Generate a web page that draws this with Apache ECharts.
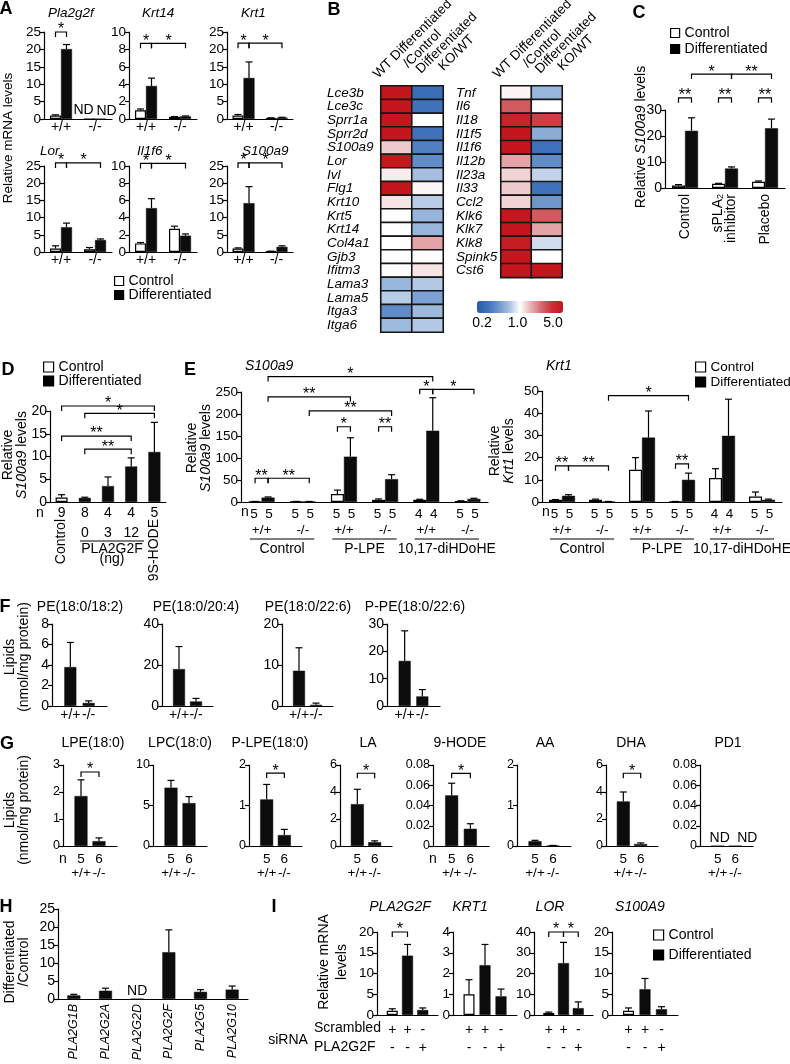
<!DOCTYPE html>
<html><head><meta charset="utf-8">
<script src="https://cdn.jsdelivr.net/npm/echarts@6/dist/echarts.min.js"></script>
<style>html,body{margin:0;padding:0;background:#fff}#c{width:790px;height:1064px}</style>
</head><body><div id="c"></div>
<script>
// ================= DATA =================
// Panel A
const aGenes = ['Pla2g2f', 'Krt14', 'Krt1', 'Lor', 'Il1f6', 'S100a9'];
const aGenotypes = ['+/+', '-/-'];
const aCtrl    = [[1.0, null], [1.0, 0.25], [1.0, 0.3], [1.0, 0.8], [1.0, 2.7], [1.0, 0.2]];
const aCtrlErr = [[0.2, 0], [0.15, 0.03], [0.3, 0.05], [0.8, 0.5], [0.1, 0.3], [0.2, 0.05]];
const aDiff    = [[20.1, null], [3.8, 0.3], [11.8, 0.4], [7.2, 3.5], [5.1, 1.9], [14.2, 1.5]];
const aDiffErr = [[1.3, 0], [0.9, 0.05], [4.6, 0.1], [1.2, 0.3], [1.1, 0.2], [4.8, 0.3]];
const aYMax = [25, 10, 25, 25, 10, 25];
const aYStep = [5, 2, 5, 5, 2, 5];
const aSig = [
  [{a: [0, -1], b: [0, 1], y: 25, t: '*'}],
  [{a: [0, -1], b: [0, 1], y: 8.7, t: '*'}, {a: [0, 1], b: [1, 1], y: 8.7, t: '*'}],
  [{a: [0, -1], b: [0, 1], y: 21.8, t: '*'}, {a: [0, 1], b: [1, 1], y: 21.8, t: '*'}],
  [{a: [0, -1], b: [0, 1], y: 25.9, t: '*'}, {a: [0, 1], b: [1, 1], y: 25.9, t: '*'}],
  [{a: [0, -1], b: [0, 1], y: 10.3, t: '*'}, {a: [0, 1], b: [1, 1], y: 10.3, t: '*'}],
  [{a: [0, -1], b: [0, 1], y: 25.9, t: '*'}, {a: [0, 1], b: [1, 1], y: 25.9, t: '*'}]
];

// Panel B (fold changes)
const bCols = ['WT Differentiated\n/Control', 'Differentiated\nKO/WT'];
const bLeftGenes = ['Lce3b', 'Lce3c', 'Sprr1a', 'Sprr2d', 'S100a9', 'Lor', 'Ivl', 'Flg1', 'Krt10', 'Krt5', 'Krt14', 'Col4a1', 'Gjb3', 'Ifitm3', 'Lama3', 'Lama5', 'Itga3', 'Itga6'];
const bLeftWT = [5, 5, 5, 5, 1.3, 5, 1.1, 5, 1.15, 1, 1, 1, 1, 1, 0.6, 0.72, 0.4, 0.62];
const bLeftKO = [0.28, 0.3, 1, 0.3, 0.35, 0.4, 0.65, 1.05, 0.72, 0.6, 0.6, 1.6, 1, 1.15, 0.7, 0.5, 0.62, 0.7];
const bRightGenes = ['Tnf', 'Il6', 'Il18', 'Il1f5', 'Il1f6', 'Il12b', 'Il23a', 'Il33', 'Ccl2', 'Klk6', 'Klk7', 'Klk8', 'Spink5', 'Cst6'];
const bRightWT = [1.05, 2.5, 4, 5, 5, 1.6, 1.25, 1.3, 1.25, 5, 5, 4.5, 5, 5];
const bRightKO = [0.6, 1, 3, 0.55, 0.3, 0.4, 0.75, 0.3, 0.45, 2.5, 1.6, 0.8, 1, 5];
const bScaleTicks = [0.2, 1.0, 5.0];

// Panel C
const cTreatments = ['Control', 'sPLA2 inhibitor', 'Placebo'];
const cCtrl = [1.0, 1.6, 2.4];
const cCtrlErr = [0.3, 0.2, 0.3];
const cDiff = [22, 7.5, 23];
const cDiffErr = [5, 0.6, 3.5];
const cSig = [
  {a: [0, -1], b: [0, 1], y: 34.7, t: '**'}, {a: [1, -1], b: [1, 1], y: 34.7, t: '**'}, {a: [2, -1], b: [2, 1], y: 34.7, t: '**'},
  {a: [0, 1], b: [1, 1], y: 43.8, t: '*'}, {a: [1, 1], b: [2, 1], y: 43.8, t: '**'}
];

// Panel D
const dConds = ['Control', '0', '3', '12', '9S-HODE'];
const dCondType = ['Control', 'Differentiated', 'Differentiated', 'Differentiated', 'Differentiated'];
const dN = [9, 8, 4, 4, 5];
const dValues = [1.0, 0.9, 3.5, 7.8, 11];
const dErr = [0.6, 0.15, 2.0, 1.9, 6.5];
const dSig = [
  {a: [0, 0], b: [4, 0], y: 21.1, t: '*'}, {a: [1, 0], b: [4, 0], y: 19.5, t: '*'},
  {a: [0, 0], b: [3, 0], y: 14.5, t: '**'}, {a: [1, 0], b: [3, 0], y: 11.6, t: '**'}
];

// Panel E
const eGroups = ['Control', 'P-LPE', '10,17-diHDoHE'];
const eGenotypes = ['+/+', '-/-', '+/+', '-/-', '+/+', '-/-'];
const eN = [[5, 5], [5, 5], [5, 5], [5, 5], [4, 4], [5, 5]];
const eS100a9Ctrl = [1, 1, 18, 5, 5, 2];
const eS100a9CtrlErr = [0.3, 0.3, 9, 2, 1.2, 0.8];
const eS100a9Diff = [10, 1, 103, 52, 162, 7];
const eS100a9DiffErr = [1.5, 0.3, 43, 10, 75, 1.5];
const eS100a9Sig = [
  {a: [0, -1], b: [0, 1], y: 54, t: '**'}, {a: [0, 1], b: [1, 1], y: 54, t: '**'},
  {a: [2, -1], b: [2, 1], y: 171, t: '*'}, {a: [3, -1], b: [3, 1], y: 171, t: '**'},
  {a: [0, 1], b: [4, 1], y: 285, t: '*'}, {a: [0, 1], b: [2, 1], y: 239, t: '**'},
  {a: [1, 1], b: [3, 1], y: 207, t: '**'},
  {a: [4, -1], b: [4, 1], y: 256, t: '*'}, {a: [4, 1], b: [5, 1], y: 256, t: '*'}
];
const eKrt1Ctrl = [1, 1, 14.5, 0.2, 10.8, 2.5];
const eKrt1CtrlErr = [0.1, 0.3, 5.5, 0.05, 4.2, 2];
const eKrt1Diff = [2.8, 0.2, 29, 10, 29.8, 1.0];
const eKrt1DiffErr = [0.5, 0.05, 12, 3, 16.5, 0.3];
const eKrt1Sig = [
  {a: [0, -1], b: [0, 1], y: 16.3, t: '**'}, {a: [0, 1], b: [1, 1], y: 16.3, t: '**'},
  {a: [3, -1], b: [3, 1], y: 17.2, t: '**'}, {a: [1, 1], b: [3, 1], y: 47.9, t: '*'}
];

// Panel F
const fLipids = ['PE(18:0/18:2)', 'PE(18:0/20:4)', 'PE(18:0/22:6)', 'P-PE(18:0/22:6)'];
const fGenotypes = ['+/+', '-/-'];
const fWT = [3.8, 18, 8.6, 16.5];
const fWTErr = [2.4, 11, 5.6, 11];
const fKO = [0.3, 2.2, 0.3, 3.5];
const fKOErr = [0.2, 1.5, 0.4, 2.5];
const fYMax = [8, 40, 20, 30];
const fYStep = [2, 20, 10, 10];

// Panel G
const gLipids = ['LPE(18:0)', 'LPC(18:0)', 'P-LPE(18:0)', 'LA', '9-HODE', 'AA', 'DHA', 'PD1'];
const gN = [5, 6];
const gWT = [1.85, 7.2, 1.15, 3.1, 0.05, 0.12, 3.3, null];
const gWTErr = [0.6, 0.9, 0.37, 1.1, 0.012, 0.02, 0.7, 0];
const gKO = [0.18, 5.3, 0.27, 0.28, 0.017, 0.01, 0.15, null];
const gKOErr = [0.12, 0.8, 0.14, 0.1, 0.005, 0.005, 0.08, 0];
const gYMax = [3, 10, 2, 6, 0.08, 2, 6, 0.08];
const gYStep = [1, 5, 1, 2, 0.02, 1, 2, 0.02];
const gSigY = [2.74, null, 1.8, 5.39, 0.0718, null, 5.39, null];

// Panel H
const hGenes = ['PLA2G1B', 'PLA2G2A', 'PLA2G2D', 'PLA2G2F', 'PLA2G5', 'PLA2G10'];
const hRatio = [1.0, 2.3, null, 13, 2.0, 2.6];
const hErr = [0.3, 0.7, 0, 6.2, 0.6, 1.0];

// Panel I
const iGenes = ['PLA2G2F', 'KRT1', 'LOR', 'S100A9'];
const iScrambled = ['+', '+', '-'];
const iSiRNA = ['-', '-', '+'];
const iCond = ['Control', 'Differentiated', 'Differentiated'];
const iValues = [[1.0, 14.3, 1.2], [1.0, 2.4, 0.9], [1.0, 25, 3.3], [1.0, 6.2, 1.4]];
const iErr = [[0.5, 2.7, 0.5], [0.7, 1.0, 0.35], [0.4, 10, 3], [0.7, 2.6, 0.6]];
const iYMax = [20, 4, 40, 20];
const iYStep = [5, 1, 10, 5];
const iSig = [
  [{a: [1, 0], b: [2, 0], y: 20, t: '*'}], [],
  [{a: [1, 0], b: [2, 0], y: 40, t: '*'}, {a: [2, 0], b: [3, 0], y: 40, t: '*'}], []
];

// ================= BUILDERS =================
const FONT = '"Liberation Sans", Arial, Helvetica, sans-serif';
const grids = [], xAxes = [], yAxes = [], series = [], graphics = [], heatIdx = [];

function T(x, y, text, o) {
  o = o || {};
  const st = {text, x: 0, y: 0, fill: '#000', fontFamily: FONT, fontSize: o.size || 14,
    fontStyle: o.italic ? 'italic' : 'normal', fontWeight: o.bold ? 'bold' : 'normal',
    align: o.align || 'center', verticalAlign: o.valign || 'middle'};
  if (o.lh) st.lineHeight = o.lh;
  if (o.rich) st.rich = o.rich;
  graphics.push({type: 'text', x, y, rotation: o.rot || 0, silent: true, z: 10, style: st});
}
function L(x1, y1, x2, y2) {
  graphics.push({type: 'line', silent: true, z: 10, shape: {x1, y1, x2, y2}, style: {stroke: '#000', lineWidth: 1.2}});
}
function ITAL(s) {
  return {i: {fontStyle: 'italic', fontSize: s, fontFamily: FONT, fill: '#000'}, n: {fontSize: s, fontFamily: FONT, fill: '#000'}};
}

function addBarPanel(c) {
  const gi = grids.length;
  grids.push({left: c.box[0], top: c.box[1], width: c.box[2], height: c.box[3]});
  const xi = xAxes.length;
  xAxes.push({
    type: 'category', gridIndex: gi, data: c.cats, boundaryGap: c.boundaryGap !== false, position: 'bottom',
    axisLine: {show: true, onZero: false, lineStyle: {color: '#000', width: 1.2}},
    axisTick: {show: false}, splitLine: {show: false},
    axisLabel: {
      interval: 0, color: '#000', fontFamily: FONT, fontSize: c.xFont || 14,
      margin: c.xMargin != null ? c.xMargin : 2, rotate: c.xRotate || 0, lineHeight: c.xLH || 15,
      fontStyle: c.xItalic ? 'italic' : 'normal',
      formatter: (v, i) => c.xLabels[i], rich: c.xRich || {}
    }
  });
  const yi = yAxes.length;
  yAxes.push({
    type: 'value', gridIndex: gi, min: 0, max: c.yMax, interval: c.yStep,
    axisLine: {show: true, onZero: false, lineStyle: {color: '#000', width: 1.2}},
    axisTick: {show: true, length: 4, lineStyle: {color: '#000', width: 1.2}},
    splitLine: {show: false},
    axisLabel: {color: '#000', fontFamily: FONT, fontSize: c.yFont || 13, margin: 3}
  });
  c.bars.forEach(b => {
    const white = b.name === 'Control';
    const side = b.side || 0;
    series.push({
      type: 'bar', name: b.name, xAxisIndex: xi, yAxisIndex: yi, barWidth: c.bw, barGap: c.barGap || '0%',
      itemStyle: white ? {color: '#fff', borderColor: '#000', borderWidth: 1.2} : {color: '#0c0c0c', borderColor: '#0c0c0c', borderWidth: 0.5},
      data: b.data.map((v, i) => v === null ? {
        value: 0,
        label: {show: true, position: 'top', distance: 1, formatter: 'ND', color: '#000', fontFamily: FONT,
          fontSize: c.ndFont || 14, offset: [c.ndOff ? c.ndOff[i] : side * 6, 0]}
      } : v),
      silent: true, z: 2
    });
    const off = side * c.bw / 2;
    const cap = c.cap || 3.5;
    const pts = [];
    b.data.forEach((v, i) => { if (typeof v === 'number' && b.err && b.err[i] > 0) pts.push([i, v, b.err[i]]); });
    series.push({
      type: 'custom', xAxisIndex: xi, yAxisIndex: yi, clip: false, silent: true, z: 3, data: pts,
      renderItem: (p, api) => {
        const b0 = api.coord([api.value(0), api.value(1)]);
        const t = api.coord([api.value(0), api.value(1) + api.value(2)]);
        const x = b0[0] + off;
        return {type: 'group', children: [
          {type: 'line', shape: {x1: x, y1: b0[1], x2: x, y2: t[1]}, style: {stroke: '#000', lineWidth: 1.2}},
          {type: 'line', shape: {x1: x - cap, y1: t[1], x2: x + cap, y2: t[1]}, style: {stroke: '#000', lineWidth: 1.2}}
        ]};
      }
    });
  });
  if (c.sig && c.sig.length) {
    const sig = c.sig;
    series.push({
      type: 'custom', xAxisIndex: xi, yAxisIndex: yi, clip: false, silent: true, z: 4,
      data: sig.map(s => [s.a[0], s.y, s.a[1], s.b[0], s.b[1]]),
      renderItem: (p, api) => {
        const s = sig[p.dataIndex];
        const p1 = api.coord([api.value(0), api.value(1)]);
        const p2 = api.coord([api.value(3), api.value(1)]);
        const x1 = p1[0] + api.value(2) * c.bw / 2, x2 = p2[0] + api.value(4) * c.bw / 2, y = p1[1];
        const h = c.tick || 5;
        return {type: 'group', children: [
          {type: 'polyline', shape: {points: [[x1, y + h], [x1, y], [x2, y], [x2, y + h]]}, style: {stroke: '#000', fill: null, lineWidth: 1.2}},
          {type: 'text', style: {text: s.t, x: (x1 + x2) / 2, y: y + 6, align: 'center', verticalAlign: 'bottom',
            fontSize: c.starFont || 16, fontFamily: FONT, fill: '#000'}}
        ]};
      }
    });
  }
  return {gi, xi, yi};
}

function addHeat(box, genes, wt, ko, margin) {
  const gi = grids.length;
  grids.push({left: box[0], top: box[1], width: box[2], height: box[3]});
  const xi = xAxes.length;
  xAxes.push({type: 'category', gridIndex: gi, data: ['wt', 'ko'], show: false});
  const yi = yAxes.length;
  yAxes.push({
    type: 'category', gridIndex: gi, data: genes, inverse: true,
    axisLine: {show: false}, axisTick: {show: false}, splitLine: {show: false},
    axisLabel: {interval: 0, align: 'left', margin: margin, fontStyle: 'italic', fontSize: 13.5, color: '#000', fontFamily: FONT}
  });
  const data = [];
  genes.forEach((g, i) => { data.push([0, i, Math.log10(wt[i])]); data.push([1, i, Math.log10(ko[i])]); });
  heatIdx.push(series.length);
  series.push({type: 'heatmap', xAxisIndex: xi, yAxisIndex: yi, data, silent: true,
    itemStyle: {borderColor: '#161616', borderWidth: 1.6}});
  const colW = box[2] / 2;
  bCols.forEach((t, j) => {
    const cx = box[0] + colW * (j + 0.5);
    T(cx + (j === 0 ? 21 : 24), box[1] - (j === 0 ? 42 : 38), t, {size: 13.5, rot: Math.PI / 4, lh: 14});
  });
}

// ================= PANELS =================
// A
const aBoxes = [[44, 32, 68, 87], [129, 32, 68, 87], [227, 32, 66, 87], [44, 166, 68, 86], [129, 166, 68, 86], [227, 166, 66, 86]];
const aTitlePos = [[48, 13], [142, 13], [241, 13], [40, 151], [137, 151], [242, 151]];
aGenes.forEach((g, k) => {
  addBarPanel({box: aBoxes[k], cats: aGenotypes, xLabels: aGenotypes, xFont: 14, xMargin: 1,
    yMax: aYMax[k], yStep: aYStep[k], yFont: 13.5, bw: 11,
    bars: [{name: 'Control', side: -1, data: aCtrl[k], err: aCtrlErr[k]},
           {name: 'Differentiated', side: 1, data: aDiff[k], err: aDiffErr[k]}],
    sig: aSig[k]});
  T(aTitlePos[k][0], aTitlePos[k][1], g, {italic: true, size: 13.5, align: 'left'});
});
T(8, 138, 'Relative mRNA levels', {rot: Math.PI / 2, size: 13.5});

// B
addHeat([381, 86, 62, 246], bLeftGenes, bLeftWT, bLeftKO, 54);
addHeat([501, 86, 61, 191.4], bRightGenes, bRightWT, bRightKO, 45);
bScaleTicks.forEach(v => {
  const t = (Math.log10(v) + Math.log10(5)) / (2 * Math.log10(5));
  T(482 + 71 * t, 323, v.toFixed(1), {size: 14});
});

// C
addBarPanel({box: [665, 110, 120, 78], cats: cTreatments,
  xLabels: ['Control', 'sPLA{s|2}\ninhibitor', 'Placebo'], xRotate: 90, xMargin: 6, xLH: 13, xFont: 14,
  xRich: {s: {fontSize: 9, fontFamily: FONT, verticalAlign: 'bottom', padding: [7, 0, 0, 0]}},
  yMax: 30, yStep: 10, yFont: 14, bw: 13,
  bars: [{name: 'Control', side: -1, data: cCtrl, err: cCtrlErr}, {name: 'Differentiated', side: 1, data: cDiff, err: cDiffErr}],
  sig: cSig});
T(641, 137, '{n|Relative }{i|S100a9}{n| levels}', {rot: Math.PI / 2, rich: ITAL(14)});

// D
(function () {
  const ctrl = dValues.map((v, i) => dCondType[i] === 'Control' ? v : '-');
  const diff = dValues.map((v, i) => dCondType[i] === 'Control' ? '-' : v);
  const ctrlE = dErr.map((v, i) => dCondType[i] === 'Control' ? v : 0);
  const diffE = dErr.map((v, i) => dCondType[i] === 'Control' ? 0 : v);
  const r = addBarPanel({box: [50, 411, 116, 91], cats: dConds, xLabels: dN.map(String), xMargin: 4, xFont: 14,
    yMax: 20, yStep: 5, yFont: 14, bw: 12, barGap: '-100%',
    bars: [{name: 'Control', data: ctrl, err: ctrlE}, {name: 'Differentiated', data: diff, err: diffE}],
    sig: dSig});
  xAxes.push({type: 'category', gridIndex: r.gi, data: dConds, position: 'bottom', axisLine: {show: false}, axisTick: {show: false},
    axisLabel: {interval: 0, margin: 24, color: '#000', fontFamily: FONT, fontSize: 14,
      formatter: (v, i) => dCondType[i] === 'Control' || i === dConds.length - 1 ? '' : v}});
  xAxes.push({type: 'category', gridIndex: r.gi, data: dConds, position: 'bottom', axisLine: {show: false}, axisTick: {show: false},
    axisLabel: {interval: 0, margin: 17, rotate: 90, color: '#000', fontFamily: FONT, fontSize: 14,
      formatter: (v, i) => dCondType[i] === 'Control' || i === dConds.length - 1 ? v : ''}});
  T(40, 513, 'n', {size: 14});
  L(80, 541, 144, 541);
  T(112, 549, 'PLA2G2F', {size: 14});
  T(112, 559, '(ng)', {size: 14});
  T(15, 455, '{n|Relative}\n{i|S100a9}{n| levels}', {rot: Math.PI / 2, rich: ITAL(14), lh: 14});
})();

// E
function ePanel(box, title, ctrl, ctrlE, diff, diffE, sig, yMax, yStep, lineInset) {
  addBarPanel({box, cats: eGenotypes.map((g, i) => 'c' + i),
    xLabels: eN.map((n, i) => n[0] + '  ' + n[1] + '\n' + eGenotypes[i]), xMargin: 4, xLH: 16, xFont: 13.5,
    yMax, yStep, yFont: 13.5, bw: 13,
    bars: [{name: 'Control', side: -1, data: ctrl, err: ctrlE}, {name: 'Differentiated', side: 1, data: diff, err: diffE}],
    sig});
  const gw = box[2] / eGroups.length;
  eGroups.forEach((g, k) => {
    const x0 = box[0] + gw * k;
    L(x0 + lineInset, 539, x0 + gw - lineInset, 539);
    T(x0 + gw / 2, 549, g, {size: 14});
  });
  T(box[0] + 4, 512, 'n', {size: 14});
  T(box[0] + 4, 366, title, {italic: true, size: 14, align: 'left'});
}
ePanel([241, 392, 247, 110], 'S100a9', eS100a9Ctrl, eS100a9CtrlErr, eS100a9Diff, eS100a9DiffErr, eS100a9Sig, 250, 50, 9);
T(199, 448, '{n|Relative}\n{i|S100a9}{n| levels}', {rot: Math.PI / 2, rich: ITAL(14), lh: 14});
ePanel([542, 391, 240, 111], 'Krt1', eKrt1Ctrl, eKrt1CtrlErr, eKrt1Diff, eKrt1DiffErr, eKrt1Sig, 50, 10, 8);
T(502, 451, '{n|Relative}\n{i|Krt1}{n| levels}', {rot: Math.PI / 2, rich: ITAL(14), lh: 14});

// F
const fBoxes = [[52, 624, 55, 82], [162, 624, 51, 82], [282, 624, 51, 82], [387, 624, 53, 82]];
const fTitleX = [80, 196, 308, 415];
fLipids.forEach((name, k) => {
  addBarPanel({box: fBoxes[k], cats: ['p0', 'wt', 'ko', 'p1'], boundaryGap: false,
    xLabels: ['', fGenotypes[0], fGenotypes[1], ''], xMargin: 2, xFont: 14,
    yMax: fYMax[k], yStep: fYStep[k], yFont: 14, bw: 12,
    bars: [{name: 'Lipid', data: ['-', fWT[k], fKO[k], '-'], err: [0, fWTErr[k], fKOErr[k], 0]}]});
  T(fTitleX[k], 607, name, {size: 14});
});
T(17, 657, 'Lipids\n(nmol/mg protein)', {rot: Math.PI / 2, size: 14, lh: 14});

// G
const gBoxes = [[63, 765, 54, 81], [153, 765, 54, 81], [249, 765, 53, 81], [340, 765, 52, 81],
                [433, 765, 56, 81], [517, 765, 54, 81], [606, 765, 52, 81], [700, 765, 53, 81]];
const gTitleX = [93, 180, 270, 368, 460, 545, 631, 728];
gLipids.forEach((name, k) => {
  addBarPanel({box: gBoxes[k], cats: ['p0', 'wt', 'ko', 'p1'], boundaryGap: false,
    xLabels: ['', gN[0] + '\n+/+', gN[1] + '\n-/-', ''], xMargin: 6, xLH: 14, xFont: 13.5,
    yMax: gYMax[k], yStep: gYStep[k], yFont: 12.5, bw: 13, ndOff: [0, 2, 12, 0],
    bars: [{name: 'Lipid', data: ['-', gWT[k], gKO[k], '-'], err: [0, gWTErr[k], gKOErr[k], 0]}],
    sig: gSigY[k] != null ? [{a: [1, 0], b: [2, 0], y: gSigY[k], t: '*'}] : []});
  T(gTitleX[k], 743, name, {size: 14});
});
T(63, 859, 'n', {size: 14});
T(433, 859, 'n', {size: 14});
T(17, 810, 'Lipids\n(nmol/mg protein)', {rot: Math.PI / 2, size: 14, lh: 14});

// H
addBarPanel({box: [58, 909, 190, 90], cats: hGenes, xLabels: hGenes, xRotate: 90, xItalic: true, xMargin: 5, xFont: 12.5,
  yMax: 25, yStep: 5, yFont: 14, bw: 13,
  bars: [{name: 'Ratio', data: hRatio, err: hErr}]});
T(17, 962, 'Differentiated\n/Control', {rot: Math.PI / 2, size: 14, lh: 14});

// I
const iBoxes = [[377, 932, 61, 83], [453, 932, 64, 83], [534, 932, 59, 83], [612, 932, 66, 83]];
const iTitleX = [400, 470, 550, 640];
iGenes.forEach((g, k) => {
  const ctrl = ['-'], diff = ['-'], ce = [0], de = [0];
  iCond.forEach((c, j) => {
    ctrl.push(c === 'Control' ? iValues[k][j] : '-'); ce.push(c === 'Control' ? iErr[k][j] : 0);
    diff.push(c === 'Control' ? '-' : iValues[k][j]); de.push(c === 'Control' ? 0 : iErr[k][j]);
  });
  ctrl.push('-'); diff.push('-'); ce.push(0); de.push(0);
  addBarPanel({box: iBoxes[k], cats: ['p0', 's1', 's2', 's3', 'p1'], boundaryGap: false,
    xLabels: [''].concat(iScrambled.map((s, j) => s + '\n' + iSiRNA[j])).concat(['']),
    xMargin: 6, xLH: 18, xFont: 14,
    yMax: iYMax[k], yStep: iYStep[k], yFont: 13.5, bw: 11, barGap: '-100%',
    bars: [{name: 'Control', data: ctrl, err: ce}, {name: 'Differentiated', data: diff, err: de}],
    sig: iSig[k]});
  T(iTitleX[k], 907, g, {italic: true, size: 14});
});
T(333, 962, 'Relative mRNA\nlevels', {rot: Math.PI / 2, size: 14, lh: 18});
T(288, 1040, 'siRNA', {size: 14});
T(314, 1028, 'Scrambled', {size: 14, align: 'left'});
T(314, 1047, 'PLA2G2F', {size: 14, align: 'left'});

// Panel letters
[['A', 6, 9], ['B', 334, 10], ['C', 639, 13], ['D', 8, 370], ['E', 190, 370], ['F', 5, 607],
 ['G', 7, 744], ['H', 6, 907], ['I', 274, 907]].forEach(p => T(p[1], p[2], p[0], {bold: true, size: 18}));

// Legends
const legendData = [
  {name: 'Control', itemStyle: {color: '#fff', borderColor: '#000', borderWidth: 1.2}},
  {name: 'Differentiated', itemStyle: {color: '#000', borderColor: '#000', borderWidth: 1.2}}
];
function mkLegend(left, top, icon, gap, size) {
  return {left, top, orient: 'vertical', data: legendData, icon: 'rect', itemWidth: icon, itemHeight: icon,
    itemGap: gap, padding: 0, selectedMode: false,
    textStyle: {fontSize: size || 14, fontFamily: FONT, color: '#000', lineHeight: 13}};
}

const option = {
  animation: false,
  textStyle: {fontFamily: FONT},
  grid: grids, xAxis: xAxes, yAxis: yAxes, series,
  visualMap: [{
    type: 'continuous', seriesIndex: heatIdx, min: -Math.log10(5), max: Math.log10(5), dimension: 2,
    orient: 'horizontal', left: 477, top: 301, itemWidth: 12, itemHeight: 86, padding: 0,
    calculable: false, hoverLink: false,
    inRange: {color: ['#2b5aa6', '#3f72bb', '#6b95cc', '#a9c1e0', '#ffffff', '#e7b0b3', '#d46a6e', '#c93035', '#c4161c']}
  }],
  legend: [
    mkLegend(114, 274, 9, 0, 14),
    mkLegend(670, 26, 9, 2, 14),
    mkLegend(43, 360, 10, 0, 14),
    mkLegend(695, 360, 10, 1, 13.5),
    mkLegend(653, 928, 10, 6, 14)
  ],
  graphic: {elements: graphics}
};
const chart = echarts.init(document.getElementById('c'), null, {renderer: 'canvas'});
chart.setOption(option);
</script></body></html>
